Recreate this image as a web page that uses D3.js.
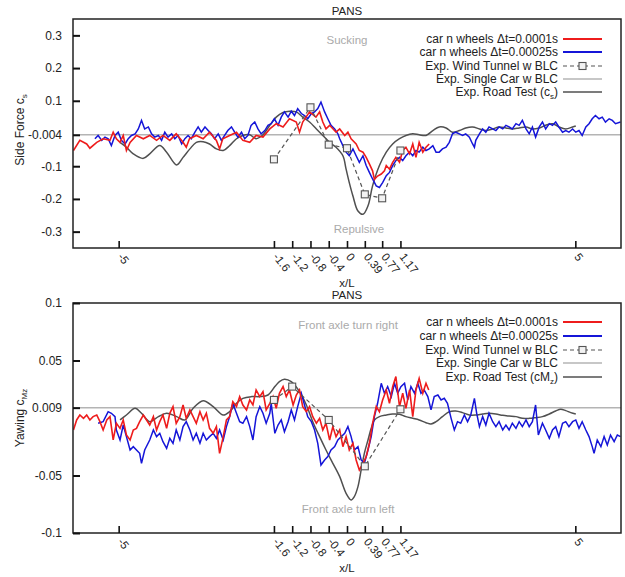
<!DOCTYPE html>
<html><head><meta charset="utf-8">
<script src="https://cdn.jsdelivr.net/npm/d3@7"></script>
<style>
body{margin:0;background:#fff;}
text{font-family:"Liberation Sans",Arial,Helvetica,sans-serif;}
</style>
</head><body>
<svg id="chart" width="625" height="577"></svg>
<script>
// ---------- tick labels ----------
const xTicks = [-5, -1.6, -1.2, -0.8, -0.4, 0, 0.39, 0.77, 1.17, 5];
const topYTicks = [0.3, 0.2, 0.1, -0.004, -0.1, -0.2, -0.3];
const botYTicks = [0.1, 0.05, 0.009, -0.05, -0.1];

// ---------- legend labels ----------
const legendNames = ["car n wheels \u0394t=0.0001s", "car n wheels \u0394t=0.00025s",
  "Exp. Wind Tunnel w BLC", "Exp. Single Car w BLC", "Exp. Road Test "];

// ---------- top panel: side force ----------
const topSingleCar = -0.004;
const topRed = [[-5.99,-0.052],[-5.85,-0.021],[-5.70,-0.032],[-5.63,-0.045],[-5.48,-0.027],[-5.34,-0.016],
 [-5.19,-0.021],[-5.12,0.004],[-5.05,-0.016],[-4.97,-0.027],[-4.90,-0.006],[-4.83,-0.052],[-4.75,-0.027],
 [-4.61,-0.006],[-4.46,-0.016],[-4.32,-0.006],[-4.17,-0.021],[-4.03,-0.006],[-3.88,-0.021],[-3.74,-0.001],
 [-3.59,-0.027],[-3.52,-0.042],[-3.45,-0.016],[-3.30,-0.006],[-3.15,-0.016],[-3.01,0.004],[-2.86,-0.021],
 [-2.79,-0.047],[-2.72,-0.016],[-2.57,-0.006],[-2.42,0.004],[-2.28,-0.021],[-2.13,-0.027],[-1.99,-0.006],
 [-1.84,-0.011],[-1.69,0.014],[-1.55,0.030],[-1.40,0.020],[-1.26,0.045],[-1.11,0.035],[-1.04,0.004],
 [-0.97,0.035],[-0.82,0.066],[-0.68,0.050],[-0.60,0.066],[-0.53,0.035],[-0.46,0.014],[-0.38,0.025],
 [-0.24,0.004],[-0.16,0.014],[-0.05,-0.006],[0.02,0.004],[0.09,-0.016],[0.20,-0.032],[0.27,-0.052],
 [0.35,-0.057],[0.42,-0.073],[0.49,-0.093],[0.56,-0.114],[0.60,-0.140],[0.67,-0.130],[0.75,-0.124],
 [0.82,-0.114],[0.86,-0.098],[0.93,-0.109],[1.00,-0.088],[1.07,-0.073],[1.15,-0.088],[1.22,-0.052],
 [1.29,-0.042],[1.37,-0.062],[1.44,-0.032],[1.51,-0.073],[1.58,-0.027],[1.66,-0.057],[1.73,-0.042],[1.80,-0.032]];
const topBlue = [[-5.52,-0.016],[-5.45,-0.006],[-5.37,-0.021],[-5.30,-0.011],[-5.23,-0.016],[-5.16,-0.037],
 [-5.08,-0.006],[-5.01,0.004],[-4.94,-0.021],[-4.86,-0.032],[-4.79,-0.016],[-4.72,-0.006],[-4.64,-0.001],
 [-4.57,0.014],[-4.50,0.040],[-4.43,0.014],[-4.35,0.020],[-4.28,-0.001],[-4.21,-0.011],[-4.13,-0.006],
 [-4.06,-0.021],[-3.99,0.004],[-3.92,-0.011],[-3.84,-0.001],[-3.77,-0.016],[-3.70,-0.006],[-3.62,-0.032],
 [-3.55,-0.016],[-3.48,-0.006],[-3.41,-0.016],[-3.33,0.004],[-3.26,0.020],[-3.19,0.004],[-3.11,0.020],
 [-3.04,0.009],[-2.97,-0.001],[-2.90,-0.016],[-2.82,-0.001],[-2.75,-0.021],[-2.68,-0.006],[-2.61,0.009],
 [-2.53,0.020],[-2.46,0.004],[-2.39,-0.011],[-2.31,0.004],[-2.24,-0.016],[-2.17,-0.006],[-2.10,0.025],
 [-2.02,0.035],[-1.95,0.014],[-1.88,-0.001],[-1.80,0.009],[-1.73,0.025],[-1.66,0.030],[-1.59,0.045],
 [-1.51,0.025],[-1.44,0.050],[-1.37,0.066],[-1.29,0.050],[-1.22,0.068],[-1.15,0.055],[-1.08,0.076],
 [-1.00,0.061],[-0.93,0.055],[-0.86,0.045],[-0.78,0.061],[-0.71,0.066],[-0.64,0.076],[-0.57,0.096],
 [-0.49,0.066],[-0.42,0.045],[-0.35,0.025],[-0.27,0.014],[-0.20,-0.001],[-0.16,-0.016],[-0.09,-0.037],
 [-0.02,-0.057],[0.05,-0.068],[0.13,-0.047],[0.20,-0.068],[0.27,-0.088],[0.35,-0.068],[0.42,-0.098],
 [0.49,-0.119],[0.56,-0.139],[0.64,-0.160],[0.71,-0.165],[0.78,-0.150],[0.86,-0.129],[0.93,-0.119],
 [1.00,-0.098],[1.07,-0.083],[1.15,-0.073],[1.22,-0.083],[1.29,-0.068],[1.37,-0.057],[1.44,-0.068],
 [1.51,-0.052],[1.58,-0.057],[1.66,-0.042],[1.73,-0.052],[1.80,-0.047],[1.88,-0.037],[1.95,-0.057],
 [2.02,-0.057],[2.09,-0.047],[2.17,-0.042],[2.24,-0.027],[2.31,-0.001],[2.38,0.004],[2.46,-0.001],
 [2.53,-0.006],[2.60,-0.001],[2.68,-0.011],[2.75,-0.032],[2.79,-0.042],[2.82,-0.021],[2.90,-0.001],
 [2.97,0.014],[3.04,0.004],[3.11,0.020],[3.19,0.014],[3.26,0.009],[3.33,0.020],[3.41,0.014],[3.48,0.025],
 [3.55,0.020],[3.62,0.014],[3.70,0.030],[3.77,0.025],[3.84,0.040],[3.92,0.014],[3.99,-0.001],[4.06,0.020],
 [4.13,-0.011],[4.21,0.020],[4.28,0.035],[4.35,0.014],[4.43,0.030],[4.50,0.025],[4.57,0.035],[4.64,0.020],
 [4.72,0.004],[4.79,0.009],[4.86,0.004],[4.94,0.014],[5.01,0.004],[5.08,0.009],[5.15,-0.006],[5.23,0.020],
 [5.30,0.030],[5.37,0.045],[5.44,0.055],[5.52,0.045],[5.59,0.050],[5.66,0.035],[5.74,0.045],[5.81,0.040],
 [5.88,0.030],[5.99,0.035]];
const topRoad = [[-4.97,-0.027],[-4.83,-0.042],[-4.68,-0.062],[-4.46,-0.076],[-4.32,-0.062],[-4.10,-0.037],
 [-3.95,-0.057],[-3.73,-0.096],[-3.59,-0.073],[-3.44,-0.047],[-3.30,-0.027],[-3.15,-0.025],[-3.01,-0.032],
 [-2.86,-0.047],[-2.71,-0.052],[-2.57,-0.037],[-2.42,-0.016],[-2.28,-0.006],[-2.13,-0.004],[-1.99,-0.016],
 [-1.84,-0.004],[-1.69,0.025],[-1.55,0.050],[-1.40,0.064],[-1.26,0.068],[-1.11,0.066],[-0.97,0.050],
 [-0.82,0.035],[-0.67,0.014],[-0.53,-0.006],[-0.38,-0.027],[-0.24,-0.042],[-0.09,-0.068],[-0.02,-0.109],
 [0.05,-0.150],[0.13,-0.191],[0.24,-0.237],[0.35,-0.247],[0.46,-0.221],[0.56,-0.160],[0.71,-0.098],
 [0.86,-0.057],[1.00,-0.032],[1.15,-0.016],[1.29,-0.006],[1.44,-0.001],[1.58,-0.004],[1.73,-0.006],
 [1.88,0.009],[2.02,0.020],[2.17,0.017],[2.31,0.004],[2.46,0.009],[2.60,0.017],[2.75,0.020],[2.90,0.014],
 [3.04,0.009],[3.19,0.014],[3.33,0.020],[3.48,0.017],[3.62,0.014],[3.77,0.017],[3.92,0.020],[4.06,0.014],
 [4.21,0.017],[4.35,0.025],[4.50,0.030],[4.64,0.020],[4.79,0.014],[4.94,0.020],[5.01,0.023]];
const topTunnel = [[-1.6,-0.079],[-0.8,0.080],[-0.4,-0.034],[0,-0.045],[0.39,-0.186],[0.77,-0.198],[1.17,-0.052]];

// ---------- bottom panel: yawing moment ----------
const botSingleCar = 0.009;
const botRed = [[-5.99,-0.0104],[-5.92,-0.0017],[-5.85,0.0026],[-5.77,-0.0003],[-5.70,0.0026],[-5.63,-0.0017],
 [-5.56,0.0012],[-5.48,0.0026],[-5.41,-0.0032],[-5.34,-0.0104],[-5.26,-0.0017],[-5.19,0.0012],[-5.12,-0.0191],
 [-5.05,-0.0046],[-4.97,-0.0090],[-4.90,-0.0017],[-4.83,-0.0148],[-4.75,-0.0191],[-4.68,-0.0104],[-4.61,-0.0090],
 [-4.54,-0.0032],[-4.46,0.0026],[-4.39,-0.0017],[-4.32,-0.0061],[-4.24,0.0012],[-4.17,-0.0104],[-4.10,-0.0032],
 [-4.03,0.0026],[-3.95,-0.0090],[-3.88,0.0041],[-3.81,0.0099],[-3.74,-0.0046],[-3.66,0.0012],[-3.59,0.0113],
 [-3.52,-0.0003],[-3.44,0.0070],[-3.37,0.0012],[-3.30,-0.0046],[-3.22,0.0055],[-3.15,-0.0017],[-3.08,0.0041],
 [-3.01,-0.0090],[-2.93,-0.0133],[-2.86,-0.0075],[-2.79,-0.0307],[-2.71,-0.0162],[-2.64,-0.0017],[-2.57,0.0012],
 [-2.50,0.0142],[-2.42,0.0099],[-2.35,0.0186],[-2.28,0.0113],[-2.20,0.0070],[-2.13,0.0157],[-2.06,0.0113],
 [-1.99,0.0244],[-1.91,0.0186],[-1.84,0.0229],[-1.77,0.0070],[-1.69,0.0128],[-1.62,0.0186],[-1.55,0.0084],
 [-1.48,0.0215],[-1.40,0.0273],[-1.33,0.0186],[-1.26,0.0244],[-1.18,0.0113],[-1.11,0.0200],[-1.04,0.0244],
 [-0.97,0.0099],[-0.89,0.0055],[-0.82,0.0099],[-0.75,0.0012],[-0.67,-0.0046],[-0.60,-0.0003],[-0.53,-0.0104],
 [-0.46,-0.0046],[-0.38,-0.0191],[-0.31,-0.0075],[-0.24,-0.0162],[-0.16,-0.0104],[-0.09,-0.0249],[-0.02,-0.0162],
 [0.05,-0.0278],[0.13,-0.0220],[0.20,-0.0365],[0.27,-0.0452],[0.35,-0.0394],[0.42,-0.0336],[0.49,-0.0220],
 [0.56,-0.0046],[0.64,0.0099],[0.71,0.0055],[0.78,0.0157],[0.86,0.0244],[0.93,0.0128],[1.00,0.0273],
 [1.07,0.0360],[1.15,0.0099],[1.22,0.0215],[1.29,0.0084],[1.37,0.0244],[1.44,0.0012],[1.51,0.0244],
 [1.58,0.0345],[1.66,0.0215],[1.73,0.0302],[1.79,0.0244]];
const botBlue = [[-5.45,-0.0046],[-5.34,-0.0032],[-5.23,0.0055],[-5.16,0.0041],[-5.08,0.0012],[-5.05,-0.0104],
 [-4.97,-0.0191],[-4.90,-0.0061],[-4.83,-0.0162],[-4.75,-0.0278],[-4.68,-0.0249],[-4.61,-0.0278],[-4.54,-0.0307],
 [-4.50,-0.0394],[-4.43,-0.0278],[-4.32,-0.0191],[-4.24,-0.0104],[-4.17,-0.0162],[-4.10,-0.0133],[-4.03,-0.0206],
 [-3.95,-0.0264],[-3.88,-0.0177],[-3.81,-0.0220],[-3.74,-0.0104],[-3.66,-0.0191],[-3.59,-0.0075],[-3.52,-0.0032],
 [-3.44,-0.0104],[-3.37,-0.0191],[-3.30,-0.0133],[-3.22,-0.0220],[-3.15,-0.0133],[-3.08,-0.0191],[-3.01,-0.0162],
 [-2.93,-0.0133],[-2.86,-0.0177],[-2.79,-0.0104],[-2.71,-0.0191],[-2.64,-0.0075],[-2.57,0.0012],[-2.50,0.0128],
 [-2.42,0.0041],[-2.35,-0.0032],[-2.28,-0.0046],[-2.20,0.0012],[-2.13,-0.0075],[-2.06,-0.0191],[-1.99,0.0012],
 [-1.91,0.0099],[-1.84,0.0041],[-1.77,-0.0046],[-1.69,0.0041],[-1.66,0.0128],[-1.58,-0.0133],[-1.51,-0.0061],
 [-1.44,-0.0017],[-1.37,-0.0119],[-1.29,-0.0032],[-1.22,0.0070],[-1.15,-0.0017],[-1.08,0.0099],[-1.00,0.0215],
 [-0.93,0.0113],[-0.86,0.0012],[-0.78,-0.0032],[-0.71,-0.0104],[-0.64,-0.0220],[-0.57,-0.0409],[-0.49,-0.0365],
 [-0.42,-0.0336],[-0.35,-0.0278],[-0.27,-0.0249],[-0.20,-0.0191],[-0.05,-0.0133],[0.02,-0.0075],[0.09,-0.0162],
 [0.16,-0.0278],[0.24,-0.0249],[0.31,-0.0365],[0.38,-0.0394],[0.46,-0.0278],[0.53,-0.0162],[0.60,0.0012],
 [0.67,0.0128],[0.75,0.0302],[0.82,0.0215],[0.89,0.0273],[0.97,0.0186],[1.04,0.0302],[1.11,0.0215],[1.18,0.0273],
 [1.26,0.0302],[1.33,0.0157],[1.40,0.0273],[1.48,0.0215],[1.55,0.0302],[1.62,0.0215],[1.69,0.0244],[1.77,0.0186],
 [1.84,0.0070],[1.91,0.0186],[1.99,0.0200],[2.06,0.0157],[2.13,0.0171],[2.20,0.0128],[2.28,-0.0003],[2.35,-0.0104],
 [2.42,-0.0032],[2.49,-0.0046],[2.57,0.0026],[2.64,-0.0032],[2.71,0.0026],[2.79,0.0171],[2.84,0.0041],[2.90,-0.0075],
 [2.97,0.0012],[3.04,-0.0061],[3.11,0.0041],[3.19,-0.0032],[3.26,-0.0075],[3.33,-0.0032],[3.41,-0.0104],[3.48,-0.0061],
 [3.55,-0.0104],[3.62,-0.0046],[3.70,-0.0090],[3.77,-0.0032],[3.84,-0.0075],[3.92,-0.0017],[3.99,-0.0075],[4.06,-0.0032],
 [4.13,0.0113],[4.19,-0.0148],[4.28,-0.0046],[4.35,-0.0104],[4.43,-0.0177],[4.50,-0.0104],[4.57,-0.0075],[4.64,-0.0162],
 [4.72,-0.0046],[4.79,-0.0032],[4.86,-0.0075],[4.94,-0.0032],[5.01,-0.0017],[5.08,-0.0090],[5.15,-0.0032],[5.23,-0.0104],
 [5.30,-0.0162],[5.37,-0.0249],[5.41,-0.0307],[5.48,-0.0191],[5.56,-0.0249],[5.63,-0.0162],[5.70,-0.0235],[5.77,-0.0148],
 [5.85,-0.0206],[5.92,-0.0148],[5.99,-0.0162]];
const botRoad = [[-4.97,-0.0017],[-4.83,0.0026],[-4.64,0.0084],[-4.50,0.0041],[-4.32,-0.0032],[-4.13,0.0012],
 [-3.95,0.0041],[-3.73,0.0012],[-3.55,-0.0017],[-3.37,0.0084],[-3.15,0.0151],[-2.93,0.0099],[-2.71,0.0026],
 [-2.57,0.0055],[-2.42,0.0128],[-2.28,0.0171],[-2.09,0.0186],[-1.91,0.0186],[-1.73,0.0200],[-1.58,0.0273],
 [-1.48,0.0316],[-1.37,0.0337],[-1.22,0.0316],[-1.04,0.0229],[-0.89,0.0113],[-0.75,-0.0032],[-0.60,-0.0162],
 [-0.46,-0.0278],[-0.31,-0.0394],[-0.16,-0.0510],[-0.02,-0.0655],[0.09,-0.0713],[0.16,-0.0684],[0.24,-0.0597],
 [0.31,-0.0452],[0.38,-0.0307],[0.46,-0.0191],[0.53,-0.0090],[0.60,-0.0017],[0.71,0.0012],[0.86,0.0026],
 [1.00,0.0035],[1.15,0.0032],[1.29,0.0012],[1.44,-0.0003],[1.58,-0.0017],[1.73,-0.0041],[1.84,-0.0052],
 [1.95,-0.0032],[2.09,0.0012],[2.24,0.0055],[2.38,0.0061],[2.53,0.0047],[2.68,0.0026],[2.82,0.0026],[2.97,0.0035],
 [3.11,0.0041],[3.26,0.0035],[3.41,0.0023],[3.55,0.0017],[3.70,0.0012],[3.84,-0.0003],[3.99,-0.0003],[4.13,0.0003],
 [4.28,0.0012],[4.43,0.0035],[4.57,0.0061],[4.68,0.0076],[4.79,0.0064],[4.90,0.0047],[5.01,0.0035]];
const botTunnel = [[-1.6,0.0157],[-1.2,0.0273],[-0.4,-0.0017],[0.39,-0.042],[1.17,0.0076]];

// ---------- drawing ----------
const svg = d3.select("#chart");
const C = {red:"#ee1c1c", blue:"#1515d8", road:"#505050", single:"#b4b4b4", tunnel:"#555", ann:"#aaaaaa"};
const FONT = 11.5, LFONT = 12;

function panel(o) {
  const x = d3.scaleLinear().domain([-6, 6]).range([73, 621]);
  const y = d3.scaleLinear().domain(o.yDomain).range([o.bottom, o.top]);
  const g = svg.append("g");

  const cid = "clip" + o.top;
  svg.append("clipPath").attr("id", cid).append("rect")
    .attr("x", 73).attr("y", o.top).attr("width", 548).attr("height", o.bottom - o.top);
  const pg = g.append("g").attr("clip-path", `url(#${cid})`);
  const line = d3.line().x(d => x(d[0])).y(d => y(d[1]));
  const smooth = d3.line().x(d => x(d[0])).y(d => y(d[1])).curve(d3.curveCatmullRom.alpha(0.5));

  pg.append("path").attr("d", line([[-6, o.single], [6, o.single]]))
    .attr("stroke", C.single).attr("stroke-width", 1.5).attr("fill", "none");
  pg.append("path").attr("d", smooth(o.road)).attr("stroke", C.road).attr("stroke-width", 1.5).attr("fill", "none");
  pg.append("path").attr("d", line(o.blue)).attr("stroke", C.blue).attr("stroke-width", 1.5).attr("fill", "none");
  pg.append("path").attr("d", line(o.red)).attr("stroke", C.red).attr("stroke-width", 1.6).attr("fill", "none");
  pg.append("path").attr("d", line(o.tunnel)).attr("stroke", C.tunnel).attr("stroke-width", 1.2)
    .attr("stroke-dasharray", "4,3").attr("fill", "none");
  pg.selectAll("rect.mk").data(o.tunnel).join("rect").attr("class", "mk")
    .attr("x", d => x(d[0]) - 3.5).attr("y", d => y(d[1]) - 3.5).attr("width", 7).attr("height", 7)
    .attr("fill", "#f2f2f2").attr("stroke", C.tunnel).attr("stroke-width", 1.1);

  g.append("rect").attr("x", 73).attr("y", o.top).attr("width", 548).attr("height", o.bottom - o.top)
    .attr("fill", "none").attr("stroke", "#222").attr("stroke-width", 1.5);

  const ya = g.append("g").attr("transform", "translate(73,0)")
    .call(d3.axisLeft(y).tickValues(o.yTicks).tickSize(-7).tickPadding(11).tickFormat(d => String(d)));
  ya.select(".domain").remove();
  ya.selectAll(".tick line").attr("stroke", "#111").attr("stroke-width", 2);
  ya.selectAll(".tick text").attr("font-size", 12).attr("fill", "#222")
    .attr("font-family", '"Liberation Sans",Arial,sans-serif');

  const xa = g.append("g").attr("transform", `translate(0,${o.bottom})`)
    .call(d3.axisBottom(x).tickValues(xTicks).tickSize(-7).tickFormat(d => String(d)));
  xa.select(".domain").remove();
  xa.selectAll(".tick line").attr("stroke", "#111").attr("stroke-width", 1.6);
  xa.selectAll(".tick text").attr("font-size", FONT).attr("fill", "#222")
    .attr("font-family", '"Liberation Sans",Arial,sans-serif')
    .attr("text-anchor", "start").attr("dy", null).attr("y", 0)
    .attr("transform", "translate(-2,9) rotate(52)");

  svg.append("text").attr("x", 347).attr("y", o.bottom + 39).attr("text-anchor", "middle")
    .attr("font-size", FONT).attr("fill", "#222").text("x/L");
  svg.append("text").attr("x", 347).attr("y", o.top - 4).attr("text-anchor", "middle")
    .attr("font-size", FONT).attr("fill", "#222").text("PANS");
  const yl = svg.append("text").attr("transform", `translate(24,${o.ylabelY}) rotate(-90)`)
    .attr("text-anchor", "middle").attr("font-size", 12).attr("fill", "#222");
  yl.append("tspan").text(o.ylabel);
  yl.append("tspan").attr("font-size", 8).attr("dy", 3).text(o.ylabelSub);

  o.ann.forEach(a => svg.append("text").attr("x", a[1]).attr("y", a[2]).attr("text-anchor", "middle")
    .attr("font-size", FONT).attr("fill", C.ann).text(a[0]));

  const styles = [
    {stroke: C.red, w: 2}, {stroke: C.blue, w: 2}, {stroke: C.tunnel, w: 1.2, dash: "4,3", mk: true},
    {stroke: C.single, w: 1.5}, {stroke: C.road, w: 1.5}];
  legendNames.forEach((nm, i) => {
    const ry = o.legendY[i];
    const t = svg.append("text").attr("x", 558).attr("y", ry + 4).attr("text-anchor", "end")
      .attr("font-size", LFONT).attr("fill", "#222");
    t.append("tspan").text(nm);
    if (i === 4) {
      t.append("tspan").text(o.roadLabel[0]);
      t.append("tspan").attr("font-size", 8).attr("dy", 3).text(o.roadLabel[1]);
      t.append("tspan").attr("dy", -3).text(")");
    }
    const s = styles[i];
    svg.append("line").attr("x1", 563).attr("x2", 602).attr("y1", ry).attr("y2", ry)
      .attr("stroke", s.stroke).attr("stroke-width", s.w).attr("stroke-dasharray", s.dash || null);
    if (s.mk) svg.append("rect").attr("x", 579).attr("y", ry - 3.5).attr("width", 7).attr("height", 7)
      .attr("fill", "#f2f2f2").attr("stroke", C.tunnel).attr("stroke-width", 1.1);
  });
}

panel({top: 19, bottom: 248, yDomain: [-0.35, 0.35], yTicks: topYTicks, single: topSingleCar,
  red: topRed, blue: topBlue, road: topRoad, tunnel: topTunnel,
  ylabel: "Side Force c", ylabelSub: "s", ylabelY: 130,
  ann: [["Sucking", 347, 44], ["Repulsive", 359, 233]],
  legendY: [39, 52, 66, 79, 92], roadLabel: ["(c", "s"]});

panel({top: 303, bottom: 533, yDomain: [-0.1, 0.1], yTicks: botYTicks, single: botSingleCar,
  red: botRed, blue: botBlue, road: botRoad, tunnel: botTunnel,
  ylabel: "Yawing c", ylabelSub: "Mz", ylabelY: 418,
  ann: [["Front axle turn right", 348, 329], ["Front axle turn left", 348, 513]],
  legendY: [322, 336, 350, 363, 377], roadLabel: ["(cM", "z"]});
</script>
</body></html>
